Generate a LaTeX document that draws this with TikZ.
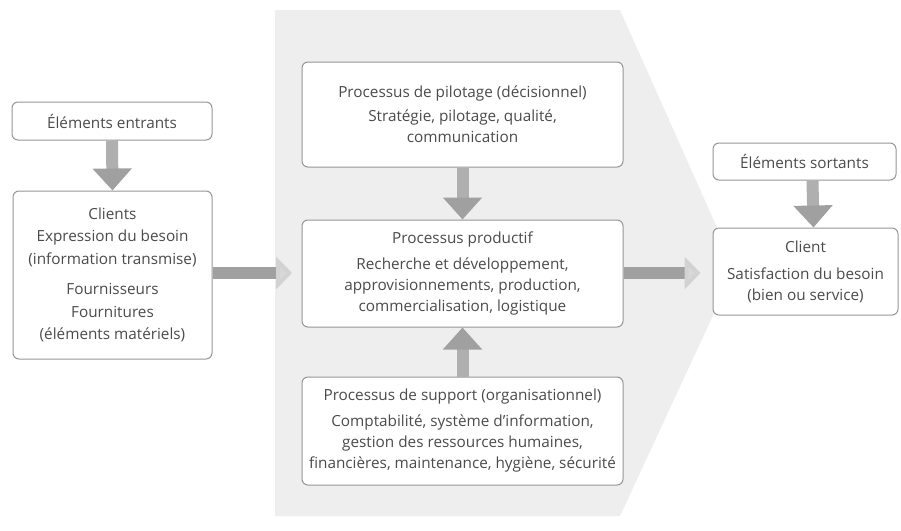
\documentclass[tikz,border=0pt]{standalone}
\usepackage{fontspec}
\setmainfont{Open Sans}
\usetikzlibrary{arrows.meta}
\definecolor{bggray}{RGB}{238,238,238}
\definecolor{txtgray}{RGB}{75,75,75}
\definecolor{boxline}{RGB}{150,150,150}
\definecolor{arrgray}{RGB}{175,175,175}
\definecolor{arrhead}{RGB}{160,160,160}
\begin{document}
\begin{tikzpicture}[x=1pt,y=-1pt,
  box/.style={draw=boxline,fill=white,line width=1pt,rounded corners=6pt,
    align=center,text=txtgray,inner sep=2pt,
    font=\fontsize{15.3}{21}\selectfont},
  vflow/.style={draw=arrgray,line width=12pt,
    -{Triangle[width=38pt,length=22pt,color=arrhead,fill=arrhead]}},
  hflow/.style={draw=arrhead,line width=12pt,
    -{Triangle[width=32pt,length=16pt,color=bggray!75!gray,fill=bggray!80!gray]}}]
\useasboundingbox (0,0) rectangle (901,530);
\fill[white] (0,0) rectangle (901,530);
% background chevron
\fill[bggray] (275,10) -- (620,10) -- (735,268) -- (620,516) -- (275,516) -- cycle;

\node[box,minimum width=200pt,minimum height=38pt] (entrants) at (112,121) {Éléments entrants};
\node[box,minimum width=199pt,minimum height=168pt,font=\fontsize{15.3}{22.5}\selectfont] (clients) at (112.5,275)
  {Clients\\Expression du besoin\\(information transmise)\\[8pt]Fournisseurs\\Fournitures\\(éléments matériels)};

\node[box,minimum width=321pt,minimum height=105pt] (pilotage) at (462.5,114.5)
  {Processus de pilotage (décisionnel)\\[3pt]Stratégie, pilotage, qualité,\\communication};
\node[box,minimum width=321pt,minimum height=107pt] (productif) at (462.5,273.5)
  {Processus productif\\[5pt]Recherche et développement,\\approvisionnements, production,\\commercialisation, logistique};
\node[box,minimum width=321pt,minimum height=108pt] (support) at (462.5,431)
  {Processus de support (organisationnel)\\[5pt]Comptabilité, système d'information,\\gestion des ressources humaines,\\financières, maintenance, hygiène, sécurité};

\node[box,minimum width=183pt,minimum height=37pt] (sortants) at (804.5,161.5) {Éléments sortants};
\node[box,minimum width=185pt,minimum height=87pt] (client) at (805.5,271.5)
  {Client\\[6pt]Satisfaction du besoin\\(bien ou service)};

\coordinate (inend) at (292,273);

% flows
\draw[vflow] (entrants.south) -- (clients.north);
\draw[vflow] (pilotage.south) -- (productif.north);
\draw[vflow] (support.north) -- (productif.south);
\draw[vflow] ([xshift=8pt]sortants.south) -- ([xshift=8pt]client.north);
\draw[hflow] (clients.east |- inend) -- (inend);
\draw[hflow,shorten >=12pt] (productif.east |- inend) -- (client.west |- inend);
\end{tikzpicture}
\end{document}
